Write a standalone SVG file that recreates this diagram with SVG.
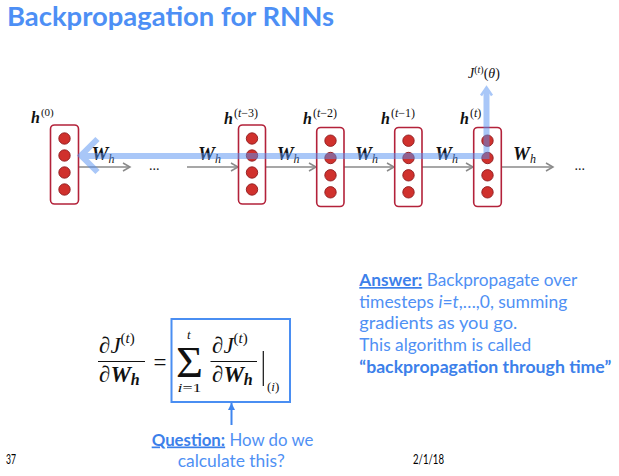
<svg xmlns="http://www.w3.org/2000/svg" width="619" height="476" viewBox="0 0 619 476">
<style>
.title{font-family:Lato,"Open Sans",sans-serif;font-weight:bold;font-size:27px;fill:#4d8ff5}
.body{font-family:Lato,"Open Sans",sans-serif;font-size:17px;fill:#4f90f4}
.bold{font-weight:bold;fill:#3c80ea}
.foot{font-family:Lato,"Open Sans",sans-serif;font-size:14px;fill:#000}
.m{font-family:"Liberation Serif","Times New Roman",serif;fill:#111}
.bi{font-weight:bold;font-style:italic}
.it{font-style:italic}
.box{fill:#fff;stroke:#b3223a;stroke-width:1.6}
.dot{fill:#d0312d;stroke:#8e1b1e;stroke-width:0.9}
.ga{fill:none;stroke:#8a8a8a;stroke-width:1.5}
</style>
<defs>
<marker id="ah" markerWidth="12" markerHeight="12" refX="10" refY="6" orient="auto" markerUnits="userSpaceOnUse">
<path d="M3,2 L10,6 L3,10" fill="none" stroke="#8a8a8a" stroke-width="1.5"/>
</marker>
<marker id="bh" markerWidth="10" markerHeight="10" refX="7" refY="5" orient="auto" markerUnits="userSpaceOnUse">
<path d="M0,1.5 L7,5 L0,8.5 Z" fill="#3f85ee"/>
</marker>
</defs>
<rect width="619" height="476" fill="#fff"/>
<text class="title" x="7" y="26" textLength="327" lengthAdjust="spacingAndGlyphs">Backpropagation for RNNs</text>

<g id="connectors">
<line class="ga" x1="79" y1="167" x2="130" y2="167" marker-end="url(#ah)"/>
<line class="ga" x1="187" y1="167" x2="238" y2="167" marker-end="url(#ah)"/>
<line class="ga" x1="266" y1="167" x2="316" y2="167" marker-end="url(#ah)"/>
<line class="ga" x1="344" y1="167" x2="394" y2="167" marker-end="url(#ah)"/>
<line class="ga" x1="422" y1="167" x2="473" y2="167" marker-end="url(#ah)"/>
<line class="ga" x1="501" y1="167" x2="553" y2="167" marker-end="url(#ah)"/>
</g>

<g id="h0">
<rect class="box" x="50.5" y="125" width="28" height="79" rx="4"/>
<circle class="dot" cx="64.5" cy="138.5" r="5.7"/>
<circle class="dot" cx="64.5" cy="155.5" r="5.7"/>
<circle class="dot" cx="64.5" cy="172.5" r="5.7"/>
<circle class="dot" cx="64.5" cy="189.5" r="5.7"/>
<text class="m" x="31" y="123" font-size="16"><tspan class="bi">h</tspan><tspan font-size="11" dy="-7" dx="1">(0)</tspan></text>
</g>
<g id="h_t3">
<rect class="box" x="238.5" y="125" width="27" height="79" rx="4"/>
<circle class="dot" cx="252" cy="138.5" r="5.7"/>
<circle class="dot" cx="252" cy="155.5" r="5.7"/>
<circle class="dot" cx="252" cy="172.5" r="5.7"/>
<circle class="dot" cx="252" cy="189.5" r="5.7"/>
<text class="m" x="224" y="124" font-size="16"><tspan class="bi">h</tspan><tspan font-size="12" dy="-7" dx="1">(<tspan class="it">t</tspan>−3)</tspan></text>
</g>
<g id="h_t2">
<rect class="box" x="316.7" y="127.5" width="27.3" height="79" rx="4"/>
<circle class="dot" cx="330.5" cy="140.7" r="5.7"/>
<circle class="dot" cx="330.5" cy="158" r="5.7"/>
<circle class="dot" cx="330.5" cy="175.3" r="5.7"/>
<circle class="dot" cx="330.5" cy="192.3" r="5.7"/>
<text class="m" x="303" y="124" font-size="16"><tspan class="bi">h</tspan><tspan font-size="12" dy="-7" dx="1">(<tspan class="it">t</tspan>−2)</tspan></text>
</g>
<g id="h_t1">
<rect class="box" x="394.7" y="127.5" width="27.3" height="79" rx="4"/>
<circle class="dot" cx="408.5" cy="140.7" r="5.7"/>
<circle class="dot" cx="408.5" cy="158" r="5.7"/>
<circle class="dot" cx="408.5" cy="175.3" r="5.7"/>
<circle class="dot" cx="408.5" cy="192.3" r="5.7"/>
<text class="m" x="381" y="124" font-size="16"><tspan class="bi">h</tspan><tspan font-size="12" dy="-7" dx="1">(<tspan class="it">t</tspan>−1)</tspan></text>
</g>
<g id="h_t">
<rect class="box" x="473.7" y="127.5" width="27.6" height="79" rx="4"/>
<circle class="dot" cx="487.5" cy="140.7" r="5.7"/>
<circle class="dot" cx="487.5" cy="158" r="5.7"/>
<circle class="dot" cx="487.5" cy="175.3" r="5.7"/>
<circle class="dot" cx="487.5" cy="192.3" r="5.7"/>
<text class="m" x="460" y="124" font-size="16"><tspan class="bi">h</tspan><tspan font-size="12" dy="-7" dx="1">(<tspan class="it">t</tspan>)</tspan></text>
</g>

<g id="labels">
<text class="m" x="91.5" y="160" font-size="19"><tspan class="bi">W</tspan><tspan class="it" font-size="12" dy="3">h</tspan></text>
<text class="m" x="198" y="160" font-size="19"><tspan class="bi">W</tspan><tspan class="it" font-size="12" dy="3">h</tspan></text>
<text class="m" x="276.7" y="160" font-size="19"><tspan class="bi">W</tspan><tspan class="it" font-size="12" dy="3">h</tspan></text>
<text class="m" x="355" y="160" font-size="19"><tspan class="bi">W</tspan><tspan class="it" font-size="12" dy="3">h</tspan></text>
<text class="m" x="435" y="160" font-size="19"><tspan class="bi">W</tspan><tspan class="it" font-size="12" dy="3">h</tspan></text>
<text class="m" x="513" y="160" font-size="19"><tspan class="bi">W</tspan><tspan class="it" font-size="12" dy="3">h</tspan></text>
<text class="m" x="149" y="170" font-size="14">...</text>
<text class="m" x="574.5" y="170" font-size="14">...</text>
<text class="m" x="468" y="78" font-size="14" fill="#333"><tspan class="it">J</tspan><tspan font-size="10" dy="-5">(<tspan class="it">t</tspan>)</tspan><tspan dy="5">(<tspan class="it">θ</tspan>)</tspan></text>
</g>

<g id="backprop" opacity="0.5" fill="none" stroke="#5591f2">
<path d="M83,156 H486.5 V90" stroke-width="6" stroke-linejoin="miter"/>
<path d="M97.5,139 L81,155.5 L97.5,172" stroke-width="6"/>
<path d="M481,95.5 L486.5,87.5 L492,95.5" stroke-width="2.5"/>
</g>

<g id="formula">
<g class="m" font-size="23">
<text x="99" y="353"><tspan>∂</tspan><tspan class="it">J</tspan><tspan font-size="15" dy="-10">(<tspan class="it">t</tspan>)</tspan></text>
<line x1="98" y1="361.5" x2="145" y2="361.5" stroke="#111" stroke-width="1"/>
<text x="99" y="381.5"><tspan>∂</tspan><tspan class="bi">W</tspan><tspan class="bi" font-size="16" dy="3">h</tspan></text>
<text x="153.5" y="370">=</text>
<text x="176" y="377" font-size="45" textLength="27" lengthAdjust="spacingAndGlyphs">Σ</text>
<text x="187" y="339" font-size="13" class="it">t</text>
<text x="177.5" y="392" font-size="13" textLength="24" lengthAdjust="spacingAndGlyphs"><tspan class="it">i</tspan>=1</text>
<text x="212" y="353"><tspan>∂</tspan><tspan class="it">J</tspan><tspan font-size="15" dy="-10">(<tspan class="it">t</tspan>)</tspan></text>
<line x1="210.5" y1="361.5" x2="257" y2="361.5" stroke="#111" stroke-width="1"/>
<text x="212" y="381.5"><tspan>∂</tspan><tspan class="bi">W</tspan><tspan class="bi" font-size="16" dy="3">h</tspan></text>
<line x1="263.3" y1="351" x2="263.3" y2="386" stroke="#111" stroke-width="1.2"/>
<text x="267" y="391" font-size="13">(<tspan class="it">i</tspan>)</text>
</g>
<rect x="171.5" y="319" width="118.5" height="83" fill="none" stroke="#4a8ef2" stroke-width="2"/>
<line x1="231.5" y1="425" x2="231.5" y2="403" stroke="#3f85ee" stroke-width="2" marker-end="url(#bh)"/>
</g>

<g id="question">
<text class="body" x="151.7" y="445.5" textLength="161.6" lengthAdjust="spacingAndGlyphs"><tspan class="bold" text-decoration="underline">Question:</tspan> How do we</text>
<text class="body" x="177.7" y="466.5" textLength="107" lengthAdjust="spacingAndGlyphs">calculate this?</text>
</g>

<g id="answer">
<text class="body" x="359.3" y="286" textLength="218" lengthAdjust="spacingAndGlyphs"><tspan class="bold" text-decoration="underline">Answer:</tspan> Backpropagate over</text>
<text class="body" x="359.3" y="307.7" textLength="208" lengthAdjust="spacingAndGlyphs">timesteps <tspan font-style="italic">i</tspan>=<tspan font-style="italic">t</tspan>,…,0, summing</text>
<text class="body" x="359.3" y="329.4" textLength="158" lengthAdjust="spacingAndGlyphs">gradients as you go.</text>
<text class="body" x="359.3" y="351" textLength="172" lengthAdjust="spacingAndGlyphs">This algorithm is called</text>
<text class="body bold" x="359.3" y="372.7" textLength="252" lengthAdjust="spacingAndGlyphs" fill="#3677e0">“backpropagation through time”</text>
</g>

<text class="foot" x="6" y="464" textLength="10" lengthAdjust="spacingAndGlyphs">37</text>
<text class="foot" x="413" y="464" textLength="31" lengthAdjust="spacingAndGlyphs">2/1/18</text>
</svg>
